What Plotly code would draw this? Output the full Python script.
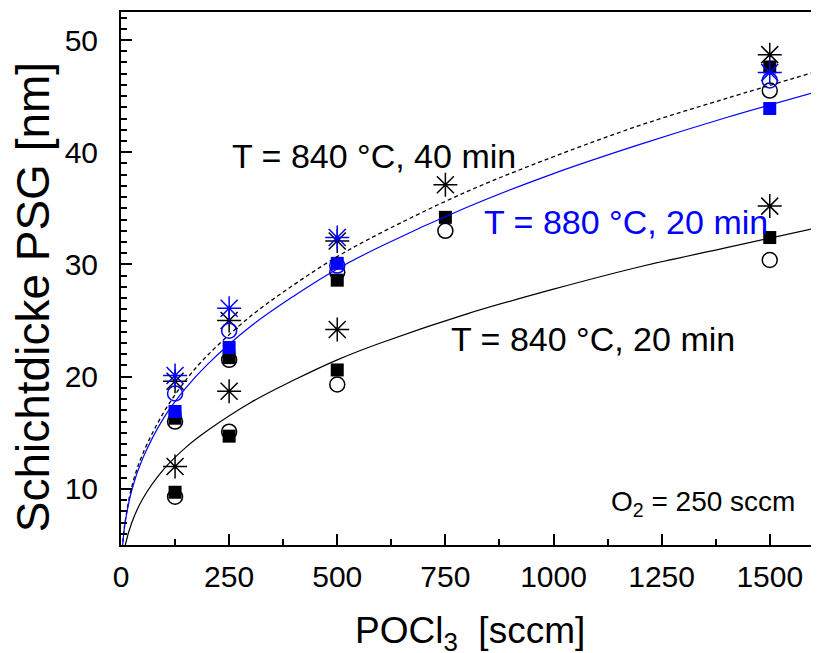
import plotly.graph_objects as go

# ---- data ----
x4 = [125, 250, 500, 1500]
x5 = [125, 250, 500, 750, 1500]

# T = 840 °C, 20 min (solid black)
t840_20_star = [12.0, 18.7, 24.2, 35.2]
t840_20_square = [9.7, 14.7, 20.6, 32.4]
t840_20_circle = [9.3, 15.1, 19.3, 30.4]

# T = 840 °C, 40 min (dashed black)
t840_40_star = [19.6, 25.0, 32.1, 37.1, 48.7]
t840_40_square = [16.3, 21.7, 28.6, 34.2, 47.6]
t840_40_circle = [16.0, 21.5, 29.3, 33.0, 45.5]

# T = 880 °C, 20 min (blue)
t880_20_star = [20.1, 26.1, 32.4, 47.1]
t880_20_square = [16.9, 22.6, 30.1, 43.9]
t880_20_circle = [18.5, 24.1, 29.9, 46.4]

# fitted curves
fit_x = [2, 5, 10, 25, 50, 100, 150, 200, 300, 400, 500, 600, 800, 1000, 1200, 1400, 1600]
fit_840_20 = [2.7, 3.8, 5.0, 7.0, 9.1, 11.8, 13.7, 15.2, 17.7, 19.7, 21.5, 23.0, 25.6, 27.8, 29.8, 31.5, 33.2]
fit_840_40 = [4.0, 5.6, 7.2, 10.2, 13.1, 16.9, 19.7, 21.9, 25.4, 28.2, 30.7, 32.8, 36.5, 39.6, 42.4, 44.8, 47.1]
fit_880_20 = [3.9, 5.5, 7.1, 9.9, 12.7, 16.4, 19.0, 21.1, 24.5, 27.2, 29.6, 31.6, 35.1, 38.1, 40.7, 43.1, 45.3]

x_ticks = [0, 250, 500, 750, 1000, 1250, 1500]
y_ticks = [10, 20, 30, 40, 50]

BLACK = "#000000"
BLUE = "#0000FF"
FONT = "Liberation Sans, Arial, sans-serif"

fig = go.Figure()

def add_markers(x, y, symbol, color, size, lw=1.5):
    fig.add_trace(go.Scatter(
        x=x, y=y, mode="markers", showlegend=False,
        marker=dict(symbol=symbol, size=size, color=color,
                    line=dict(color=color, width=lw)),
        cliponaxis=False))

# black series
add_markers(x4, t840_20_circle, "circle-open", BLACK, 15)
add_markers(x4, t840_20_square, "square", BLACK, 13, 0)
add_markers(x4, t840_20_star, "asterisk-open", BLACK, 20)
add_markers(x5, t840_40_circle, "circle-open", BLACK, 15)
add_markers(x5, t840_40_square, "square", BLACK, 13, 0)
add_markers(x5, t840_40_star, "asterisk-open", BLACK, 20)
# blue series
add_markers(x4, t880_20_circle, "circle-open", BLUE, 15)
add_markers(x4, t880_20_square, "square", BLUE, 13, 0)
add_markers(x4, t880_20_star, "asterisk-open", BLUE, 20)

# fit curves
fig.add_trace(go.Scatter(x=fit_x, y=fit_840_20, mode="lines", showlegend=False,
                         line=dict(color=BLACK, width=1.2, shape="spline")))
fig.add_trace(go.Scatter(x=fit_x, y=fit_840_40, mode="lines", showlegend=False,
                         line=dict(color=BLACK, width=1.3, dash="4px,3px", shape="spline")))
fig.add_trace(go.Scatter(x=fit_x, y=fit_880_20, mode="lines", showlegend=False,
                         line=dict(color=BLUE, width=1.2, shape="spline")))

ann_font = dict(family=FONT, size=34, color=BLACK)
fig.add_annotation(x=585, y=39.7, text="T = 840 °C, 40 min", showarrow=False, font=ann_font)
fig.add_annotation(x=1167, y=33.8, text="T = 880 °C, 20 min", showarrow=False,
                   font=dict(ann_font, color=BLUE))
fig.add_annotation(x=1091, y=23.4, text="T = 840 °C, 20 min", showarrow=False, font=ann_font)
fig.add_annotation(x=1562, y=8.7, text="O<sub>2</sub> = 250 sccm", showarrow=False,
                   xanchor="right", yanchor="middle", font=dict(ann_font, size=28))

# axis titles
fig.add_annotation(xref="paper", yref="paper", x=-0.127, y=0.465, text="Schichtdicke PSG [nm]",
                   textangle=-90, showarrow=False, xanchor="center", yanchor="middle",
                   font=dict(family=FONT, size=46, color=BLACK))
fig.add_annotation(xref="paper", yref="paper", x=0.504, y=-0.165, text="POCl<sub>3</sub>  [sccm]",
                   showarrow=False, xanchor="center", yanchor="middle",
                   font=dict(family=FONT, size=37, color=BLACK))

tick_font = dict(family=FONT, size=30, color=BLACK)
axis_common = dict(showgrid=False, zeroline=False, showline=True, linecolor=BLACK, linewidth=2,
                   mirror=True, ticks="inside", tickcolor=BLACK, tickwidth=2, ticklen=11,
                   tickfont=tick_font, automargin=False)

fig.update_xaxes(range=[0, 1600], tickvals=x_ticks, ticktext=[str(v) for v in x_ticks],
                 minor=dict(ticks="inside", ticklen=6, tickwidth=2, tickcolor=BLACK, dtick=125, tick0=0),
                 ticklabelstandoff=4, **axis_common)
fig.update_yaxes(range=[5, 52.5], tickvals=y_ticks, ticktext=[str(v) for v in y_ticks],
                 minor=dict(ticks="inside", ticklen=6, tickwidth=2, tickcolor=BLACK, dtick=1, tick0=0),
                 ticklabelstandoff=15, **axis_common)

# the page body adds an 8 px offset, so margins are compensated
fig.update_layout(width=819, height=653, plot_bgcolor="white", paper_bgcolor="white",
                  margin=dict(l=113, r=14, t=4, b=116), showlegend=False)

fig.write_html("out.html")
